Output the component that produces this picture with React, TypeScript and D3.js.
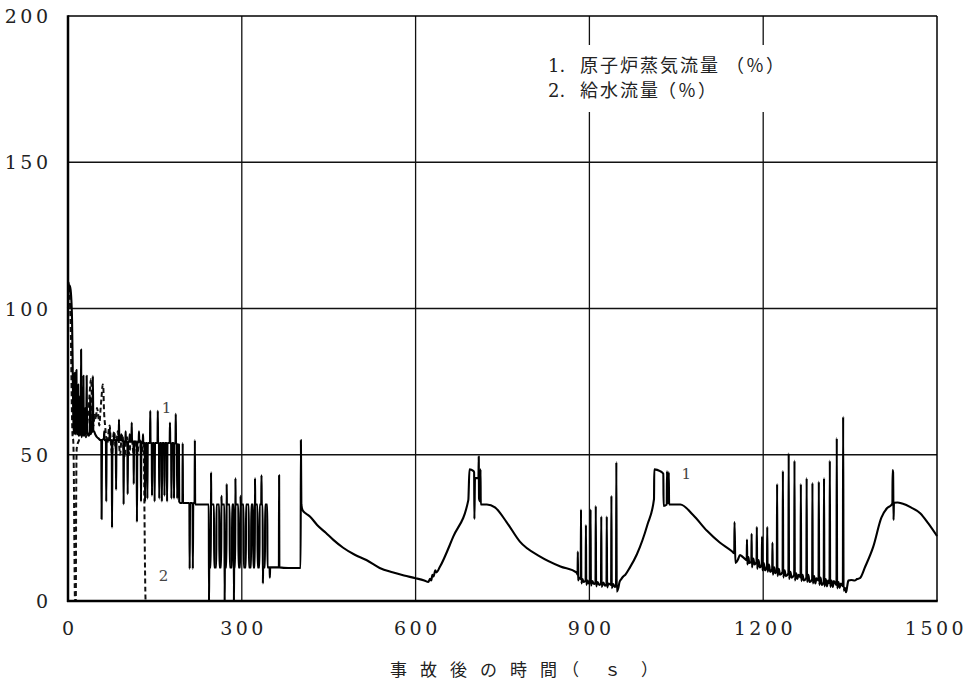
import React from "react";
import * as d3 from "d3";

const W = 968;
const H = 682;

const xTicks = [0, 300, 600, 900, 1200, 1500];
const yTicks = [0, 50, 100, 150, 200];
const xTitleMain = "事故後の時間";
const xTitleUnit = ["（", "ｓ", "）"];
const legendItems = [
  { num: "1.", label: "原子炉蒸気流量", unit: "（％）" },
  { num: "2.", label: "給水流量", unit: "（％）" },
];

// Series 1: reactor steam flow (%), [time s, value]
const steamEarly: [number, number][] = [
  [0, 100], [1, 106], [2, 108], [4, 107], [6, 102], [7, 96], [8, 82], [9, 64], [10, 57],
  [11, 75], [11.6, 78], [12.2, 58], [13, 57], [14, 76], [14.6, 79], [15.2, 58], [16, 57],
  [17, 70], [17.6, 74], [18.2, 57], [19, 56.5], [20.5, 70], [21.2, 57], [22, 58], [22.6, 86],
  [23.2, 58], [24, 56], [25, 72], [25.6, 57], [26.6, 77], [27.3, 57], [28.5, 56.5], [29.5, 66],
  [30.2, 57], [31.5, 57], [32.2, 77], [32.9, 58], [34, 57], [36, 56.5], [37.5, 58], [38.2, 70],
  [38.9, 57], [40, 57.5], [42, 58], [43, 77], [43.7, 58], [45, 58], [47, 57], [50, 56], [53, 55.5],
  [56, 55],
];
const steamUpper: [number, number][] = [
  [57.5, 55], [58, 28], [58.7, 55], [62, 55.5], [62.5, 58], [63, 55], [65.5, 55], [66, 34], [66.7, 55],
  [71.5, 55], [72, 59], [72.5, 55], [75.5, 55], [76, 25], [76.7, 55], [79, 55], [79.5, 57], [80, 55],
  [82.5, 55], [83, 38], [83.7, 55], [87.5, 55], [88, 62], [88.5, 55], [91.5, 55], [92, 57], [92.5, 55],
  [95.5, 54.5], [96, 33], [96.7, 54.5], [99, 54.5], [99.5, 58], [100, 54.5], [102.5, 54.5], [103, 36.5],
  [103.7, 54.5], [106, 54.5], [106.5, 57], [107, 54.5], [109.5, 54.5], [110, 61], [110.5, 54.5],
  [113, 54.5], [113.5, 40], [114, 54.5], [118.5, 54.5], [119, 27], [119.7, 54.5], [122, 54.5],
  [122.5, 58], [123, 54.5], [125.5, 54.5], [126, 34], [126.7, 54.5], [129, 54], [129.5, 57], [130, 54],
  [132.5, 54], [133, 34], [133.7, 54], [136.5, 54], [137, 35], [137.7, 54],
  [141.5, 54], [142, 65], [142.5, 54], [144.5, 54], [145, 36], [145.7, 54],
  [149, 54], [149.5, 34], [150.2, 54], [154.5, 54], [155, 65], [155.5, 54],
  [157, 54], [157.5, 35], [158.2, 54], [161.5, 54], [162, 34], [162.7, 54],
  [166, 54], [166.5, 36], [167.2, 54], [170.5, 54], [171, 34], [171.7, 54],
  [175.5, 54], [176, 61], [176.5, 54], [178, 54], [178.5, 35], [179.2, 54],
  [182.5, 54], [183, 35], [183.7, 54], [185.5, 54], [186, 64], [186.5, 54],
  [188, 53.5], [188.5, 35], [189.2, 53.5], [191.5, 53.5], [192, 34],
];
const steamMiddle: [number, number][] = [
  [194, 33.5], [197.5, 33.5], [198, 54], [198.5, 33.5], [209.5, 33.5], [210, 11], [210.7, 33.5],
  [215, 33.5], [215.5, 11], [216.2, 33.5], [218.5, 33.5], [219, 55], [219.5, 33], [243, 33],
  [243.4, 0], [243.8, 11.5], [246.5, 11.5], [246.9, 44], [247.3, 33],
  [252, 33], [252.3, 11.5], [256, 11.5], [256.3, 33],
  [261, 33], [261.3, 11.5], [264.4, 11.5], [264.8, 36], [265.2, 33],
  [270, 33], [270.4, 0], [270.8, 11.5], [273.5, 11.5], [273.9, 40], [274.3, 33],
  [279, 33], [279.3, 11.5], [283, 11.5], [283.3, 33],
  [286, 33], [286.4, 0], [286.8, 11.5], [288.6, 11.5], [289, 42], [289.4, 33],
  [294, 33], [294.3, 11.5], [297.4, 11.5], [297.8, 36], [298.2, 33],
  [303, 33], [303.3, 11.5], [307, 11.5], [307.3, 33],
  [312, 33], [312.3, 11.5], [316, 11.5], [316.3, 33],
  [319.5, 33], [319.8, 11.5], [322.4, 11.5], [322.8, 42], [323.2, 33],
  [327, 33], [327.3, 11.5], [330.5, 11.5], [330.8, 33],
  [333.5, 33], [334, 43], [334.5, 33],
  [336, 33], [336.4, 6], [336.8, 11.5], [340, 11.5], [340.3, 33],
  [344, 33], [344.3, 11.5], [348, 11.5], [348.4, 8], [349, 11.5],
  [364, 11.5], [364.4, 43], [364.8, 11.5], [380, 11.3], [401.5, 11.3],
];
const steamDecay1: [number, number][] = [
  [402, 55], [402.8, 33], [405, 31], [410, 30], [418, 28.8], [430, 26], [445, 23.3], [458, 20.9],
  [475, 18.2], [495, 15.8], [515, 14], [538, 11.3], [560, 9.8], [580, 8.7], [600, 7.8], [615, 7],
  [622, 6.5], [625, 7.6], [627, 7], [629, 9], [631, 8.4], [634, 10.5], [636, 9.8], [642, 11.7],
  [665, 22], [691, 34.5], [693, 45], [699.5, 44.5], [701, 44], [701.5, 28], [702.5, 42], [708.5, 42],
  [709, 49.4], [709.5, 35], [711.5, 34], [712, 45], [712.5, 33], [714, 33], [723, 33], [737, 32],
  [757, 27], [780, 20.3], [815, 15.2], [850, 11.8], [878, 9.7],
];
const steamCluster1: [number, number][] = [
  [879.6, 9], [880, 16.9], [880.5, 7], [882, 8], [885, 7.5], [885.5, 31.3], [886.1, 6], [888, 7.5],
  [890, 6.5], [893.5, 7], [894, 26], [894.6, 5.5], [897, 7], [899, 6], [901.5, 6.5], [902, 31.3],
  [902.6, 5.2], [905, 6.8], [908, 5.8], [910.5, 6.2], [911, 32.5], [911.6, 5], [914, 6.5], [917, 5.5],
  [920, 6], [920.5, 28.9], [921.1, 4.8], [924, 6.3], [927, 5.2], [929.5, 5.8], [930, 28.9],
  [930.6, 4.6], [933, 6], [937.5, 5.5], [938, 36], [938.6, 4.4], [941, 5.8], [944, 4.8], [946, 5.2],
  [946.5, 47.5], [947.2, 3.2], [950, 4.5], [952, 6.5], [955, 7.5], [958, 8.3], [962, 9], [970, 11.5],
  [982, 16], [1000, 26], [1011.5, 34.8], [1012, 45], [1022, 44.4], [1027.6, 43.5], [1028.1, 32.5],
  [1033.5, 33], [1034, 44.3], [1035, 33.5], [1036.5, 33.5], [1037, 44], [1037.6, 33], [1041, 33],
  [1057, 33], [1079, 29.4], [1103, 24], [1125, 20], [1146, 17], [1150, 16.3], [1150.5, 27],
  [1152, 13], [1156, 14], [1160, 15.7], [1165, 15], [1168, 14.5],
];
const steamCluster2: [number, number][] = [
  [1171.5, 14], [1172, 21], [1172.6, 12.5], [1174.5, 15], [1176, 13], [1179.5, 13.5],
  [1180, 23], [1180.6, 11.5], [1183, 14.5], [1185, 12.5], [1188.5, 13.5],
  [1189, 25.3], [1189.6, 11], [1192, 14], [1194, 11.5], [1197.5, 12.5],
  [1198, 22], [1198.6, 10.5], [1201, 13], [1203, 10.5], [1206.5, 12],
  [1207, 25.3], [1207.6, 10], [1210, 12.5], [1212, 10], [1215.5, 11],
  [1216, 20], [1216.6, 9], [1219, 11.5], [1221, 9.5], [1223.5, 10.5],
  [1224, 40], [1224.6, 8.5], [1227, 11], [1229, 9], [1233.5, 10],
  [1234, 44.5], [1234.6, 8], [1237, 10.5], [1239, 8.5], [1243.5, 9.5],
  [1244, 50.5], [1244.6, 7.5], [1247, 10], [1249, 8], [1253.5, 9],
  [1254, 48], [1254.6, 7], [1257, 9.5], [1259, 7.5], [1261, 9], [1264.5, 8],
  [1265, 40], [1265.6, 6.8], [1268, 9], [1270, 7], [1274.5, 8],
  [1275, 42], [1275.6, 6.5], [1278, 9], [1280, 6.5], [1284.5, 7.5],
  [1285, 40.4], [1285.6, 6], [1288, 8.5], [1290, 6], [1292, 7.8], [1295.5, 7],
  [1296, 40.8], [1296.6, 5.5], [1299, 8], [1301, 5.5], [1304.5, 6.5],
  [1305, 42], [1305.6, 5], [1308, 7.5], [1310, 5], [1312, 7], [1314.5, 6],
  [1315, 48], [1315.6, 4.8], [1318, 7], [1320, 4.8], [1322, 6.8], [1326.5, 5.5],
  [1327, 55.7], [1327.6, 4.3], [1330, 6.5], [1332, 4.5], [1334, 6], [1337.5, 5],
  [1338, 63], [1338.7, 3.5], [1341, 4.5], [1343, 3], [1345, 5], [1347, 7], [1352, 7.2], [1358, 7],
  [1362, 7.5], [1367, 7.8], [1376, 11.7], [1390, 18.6], [1404, 28.5], [1414, 31.8], [1421, 32.8],
  [1423, 33.4], [1423.4, 44.8], [1424.2, 44], [1425, 27.7], [1425.7, 33.6], [1432, 33.7],
  [1440, 33.3], [1455, 32], [1471, 30], [1485, 26.5], [1500, 22.2],
];

// Series 2: feedwater flow (%), [time s, value]
const feedwater: [number, number][] = [
  [0, 108], [1, 109], [2, 107], [3, 104], [4, 98], [5, 90], [6, 75], [7, 62], [8, 56], [9, 55],
  [10, 45], [11, 20], [12, 0], [13.5, 0], [14, 30], [15, 52], [17, 54], [19, 55], [21, 60], [23, 57],
  [25, 56], [27, 58], [29, 62], [31, 56], [33, 60], [35, 64], [37, 70], [39, 75], [40, 76], [41, 70],
  [42, 62], [44, 60], [46, 64], [48, 62], [50, 66], [52, 64], [54, 60], [56, 65], [58, 70], [60, 74],
  [61, 73], [62, 66], [64, 60], [66, 56], [68, 54], [70, 58], [72, 60], [74, 54], [76, 50], [78, 56],
  [80, 58], [82, 52], [84, 55], [86, 58], [88, 54], [90, 50], [92, 55], [94, 57], [96, 52], [98, 49],
  [100, 54], [102, 56], [104, 53], [106, 50], [108, 55], [110, 56], [112, 52], [114, 50], [116, 55],
  [118, 53], [120, 50], [122, 54], [124, 55], [126, 52], [128, 51], [130, 54], [131, 50], [132, 30],
  [133, 10], [134, 0], [1500, 0],
];

const steam = [
  ...steamEarly, ...steamUpper, ...steamMiddle, ...steamDecay1, ...steamCluster1, ...steamCluster2,
];

const annotations = [
  { t: 170, v: 66, text: "1" },
  { t: 165, v: 8.5, text: "2" },
  { t: 1067, v: 43.5, text: "1" },
];

const serif = "'DejaVu Serif', 'Liberation Serif', serif";
const cjk = "'DejaVu Serif', 'Noto Sans CJK JP', sans-serif";
const cjkOnly = "'Noto Sans CJK JP', sans-serif";

export default function App() {
  const x = d3.scaleLinear().domain([0, 1500]).range([68, 937]);
  const y = d3.scaleLinear().domain([0, 200]).range([601, 16]);
  const line = d3
    .line<[number, number]>()
    .x((d) => x(d[0]))
    .y((d) => y(d[1]))
    .curve(d3.curveMonotoneX);

  const tickLs = 3.5;
  const unitX = [726, 658];
  const titleMainX = [390, 420, 450, 480, 510, 540];
  const titleUnitX = [562, 604, 641];

  return (
    <svg
      width={W}
      height={H}
      style={{ position: "absolute", left: 0, top: 0, background: "#fff" }}
    >
      <rect x={0} y={0} width={W} height={H} fill="#fff" />
      {/* grid */}
      {xTicks.slice(1, -1).map((t) => (
        <line key={"gx" + t} x1={x(t)} x2={x(t)} y1={y(0)} y2={y(200)} stroke="#111" strokeWidth={1.3} />
      ))}
      {yTicks.slice(1, -1).map((t) => (
        <line key={"gy" + t} x1={x(0)} x2={x(1500)} y1={y(t)} y2={y(t)} stroke="#111" strokeWidth={1.3} />
      ))}
      {/* legend background */}
      <rect x={538} y={45} width={262} height={67} fill="#fff" />
      <g fontFamily={cjk} fontSize={18} fill="#222">
        {legendItems.map((it, i) => (
          <g key={it.num}>
            <text x={548} y={72 + i * 25}>{it.num}</text>
            <text x={580} y={72 + i * 25} letterSpacing={2}>{it.label}</text>
            <text x={unitX[i]} y={72 + i * 25} fontFamily={cjkOnly} letterSpacing={2}>
              {it.unit}
            </text>
          </g>
        ))}
      </g>
      {/* data */}
      <path d={line(feedwater) || ""} fill="none" stroke="#111" strokeWidth={2} strokeDasharray="5,3" />
      <path d={line(steam) || ""} fill="none" stroke="#000" strokeWidth={2.1} strokeLinejoin="round" />
      {/* frame */}
      <line x1={x(0)} x2={x(1500)} y1={y(200)} y2={y(200)} stroke="#000" strokeWidth={1.5} />
      <line x1={x(1500)} x2={x(1500)} y1={y(0)} y2={y(200)} stroke="#000" strokeWidth={1.5} />
      <line x1={x(0)} x2={x(0)} y1={y(0) + 1} y2={y(200) - 0.75} stroke="#000" strokeWidth={2.5} />
      <line x1={x(0) - 1} x2={x(1500) + 0.75} y1={y(0)} y2={y(0)} stroke="#000" strokeWidth={2.5} />
      {/* tick labels */}
      <g fontFamily={serif} fontSize={19} fill="#222" letterSpacing={tickLs}>
        {yTicks.map((t) => (
          <text key={"yl" + t} x={48 + tickLs} y={y(t) + 7} textAnchor="end">{t}</text>
        ))}
        {xTicks.map((t) => (
          <text key={"xl" + t} x={Math.min(x(t) + tickLs / 2, 936)} y={635} textAnchor="middle">{t}</text>
        ))}
      </g>
      {/* x title */}
      <text y={676} fontFamily={cjk} fontSize={17} fill="#222">
        <tspan x={titleMainX.join(" ")}>{xTitleMain}</tspan>
        {xTitleUnit.map((c, i) => (
          <tspan key={i} x={titleUnitX[i]} fontFamily={cjkOnly}>{c}</tspan>
        ))}
      </text>
      {/* annotations */}
      <g fontFamily={serif} fontSize={15} fill="#444" textAnchor="middle">
        {annotations.map((a, i) => (
          <text key={i} x={x(a.t)} y={y(a.v) + 5}>{a.text}</text>
        ))}
      </g>
    </svg>
  );
}
